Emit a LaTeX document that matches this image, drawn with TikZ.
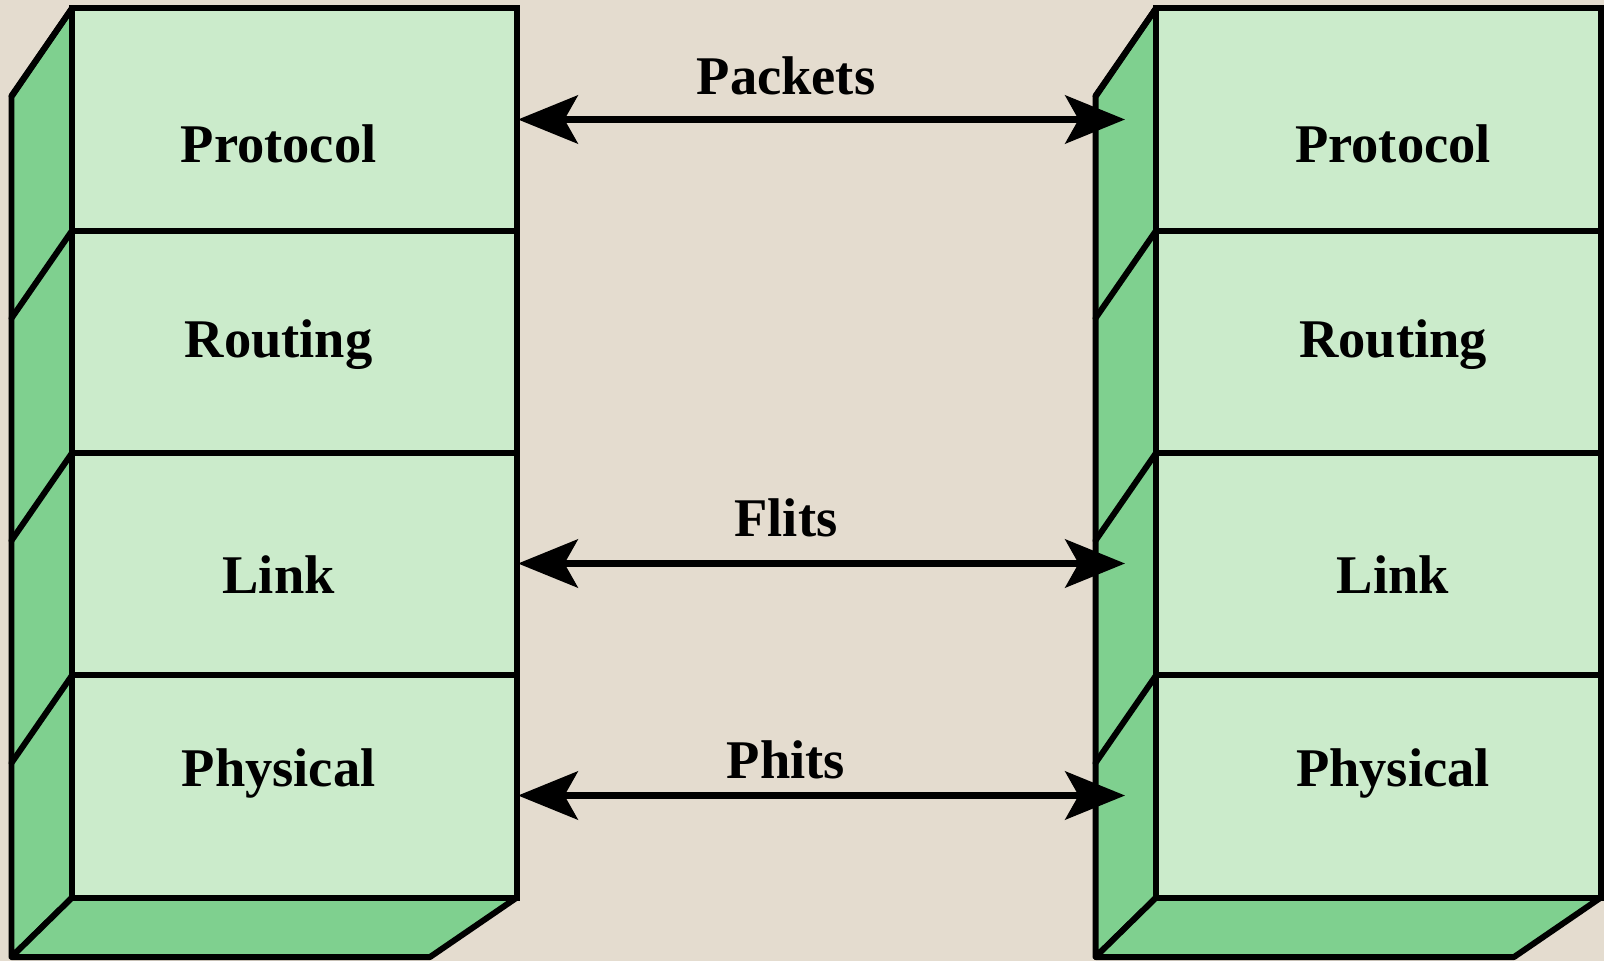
\documentclass[tikz,border=0pt]{standalone}
\usepackage{fontspec}
\setmainfont{Liberation Serif}
\usetikzlibrary{arrows.meta}
\definecolor{paper}{RGB}{228,220,207}
\definecolor{facegreen}{RGB}{203,235,203}
\definecolor{sidegreen}{RGB}{127,208,143}
\tikzset{outline/.style={draw=black,line width=1.7pt},
         sideface/.style={outline,fill=sidegreen,line join=round},
         lbl/.style={font=\bfseries\fontsize{15.5pt}{18pt}\selectfont,anchor=base,inner sep=0pt},
         link/.style={line width=1.85pt,
           {Stealth[length=17pt,width=13.7pt,inset=3.8pt]}-{Stealth[length=17pt,width=13.7pt,inset=3.8pt]}}}
\begin{document}
\begin{tikzpicture}[x=0.01cm,y=-0.01cm]
\fill[paper](0,0) rectangle (1604,961);
\useasboundingbox (0,0) rectangle (1604,961);
% the two layer stacks
\foreach \dx in {0,1084}{
\begin{scope}[shift={(\dx,0)}]
\filldraw[sideface](11.5,96.7)--(72,8.3)--(72,897.7)--(11.5,957)--cycle;
\filldraw[sideface](11.5,957)--(72,897.7)--(516.6,897.7)--(430,957)--cycle;
\filldraw[outline,fill=facegreen](72,8.3) rectangle (516.6,897.7);
\foreach \y in {8.3,230.7,453,675.4}
  \draw[outline,line cap=round](72,\y)--(11.5,\y+87.5);
\foreach \y in {230.7,453,675.4}
  \draw[outline](72,\y)--(516.6,\y);
\end{scope}}
% layer names
\node[lbl] (lproto) at (278.6,163) {Protocol};
\node[lbl] (lrout) at (278.6,357) {Routing};
\node[lbl] (llink) at (278.6,593.3) {Link};
\node[lbl] (lphys) at (278.6,786.7) {Physical};
\node[lbl] (rproto) at (1393,163) {Protocol};
\node[lbl] (rrout) at (1393,357) {Routing};
\node[lbl] (rlink) at (1393,593.3) {Link};
\node[lbl] (rphys) at (1393,786.7) {Physical};
% exchanges between the stacks
\coordinate (pktl) at (518,119.5);
\coordinate (pktr) at (1125,119.5);
\coordinate (fltl) at (518,563.5);
\coordinate (fltr) at (1125,563.5);
\coordinate (phtl) at (518,795.5);
\coordinate (phtr) at (1125,795.5);
\draw[link](pktl)--(pktr);
\draw[link](fltl)--(fltr);
\draw[link](phtl)--(phtr);
\node[lbl] (pkts) at (786,95) {Packets};
\node[lbl] (flts) at (786,536) {Flits};
\node[lbl] (phts) at (786,778) {Phits};
\end{tikzpicture}
\end{document}
